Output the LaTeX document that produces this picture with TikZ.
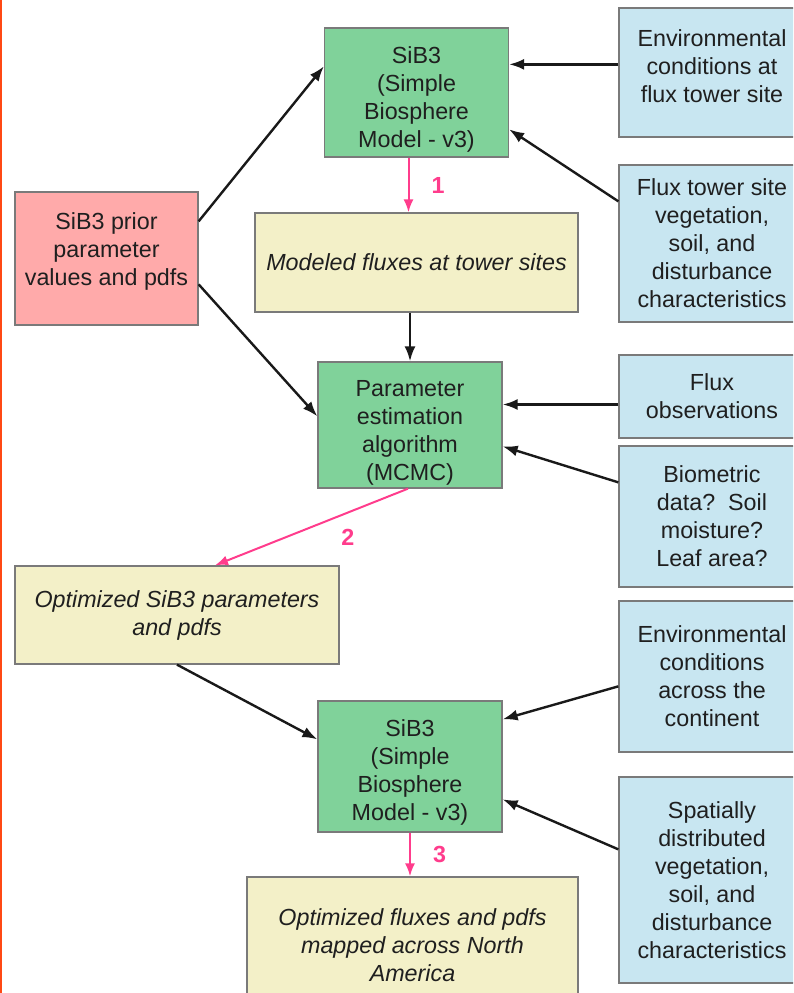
\documentclass[tikz,border=0pt]{standalone}
\usepackage{fontspec}
\setmainfont{Liberation Sans}
\usepackage{tikz}
\usetikzlibrary{positioning}
\usetikzlibrary{calc, arrows.meta}

\definecolor{modelC}{RGB}{128,210,154}
\definecolor{inputC}{RGB}{200,230,241}
\definecolor{resultC}{RGB}{243,240,200}
\definecolor{priorC}{RGB}{255,170,170}
\definecolor{runC}{RGB}{255,60,140}
\definecolor{edgeC}{RGB}{255,72,20}

\begin{document}
\begin{tikzpicture}
[
	x=1pt, y=-1pt,
	every node/.style={font=\fontsize{23.3}{28}\selectfont, text=black!88},
	theme/.style={draw=black!52, line width=1.3pt, rectangle, align=center, inner sep=4pt},
	model/.style={theme, fill=modelC, minimum width=184pt},
	input/.style={theme, fill=inputC, minimum width=186pt},
	result/.style={theme, fill=resultC, font=\fontsize{23.3}{28}\selectfont\itshape},
	prior/.style={theme, fill=priorC},
	flow/.style={-{Latex[length=15pt, width=11pt]}, line width=2.4pt, black!90},
	run/.style={-{Latex[length=13pt, width=10pt]}, line width=2pt, runC},
	numT/.style={inner sep=0pt, text=runC, font=\fontsize{23.3}{28}\selectfont\bfseries}
]
	\path[use as bounding box, clip] (0,0) rectangle (793,993);
	\fill[edgeC] (0,0) rectangle (2,993);

	\node[model, minimum height=129pt, text height=115pt] (top) at (416.5,92.5) {SiB3\\(Simple\\Biosphere\\Model - v3)};
	\node[input, minimum height=129pt, text depth=13pt] (env1) at (712,72.5) {Environmental\\conditions at\\flux tower site};
	\node[input, minimum height=157pt] (veg1) at (712,243.5) {Flux tower site\\vegetation,\\soil, and\\disturbance\\characteristics};
	\node[prior, minimum width=183pt, minimum height=133pt, text depth=19pt] (prior) at (106.5,258.5) {SiB3 prior\\parameter\\values and pdfs};
	\node[result, minimum width=323pt, minimum height=99pt] (modeled) at (416.5,262.5) {Modeled fluxes at tower sites};

	\node[model, minimum height=126pt, inner ysep=2pt, text height=116.5pt] (param) at (410,425) {Parameter\\estimation\\algorithm\\(MCMC)};
	\node[input, minimum height=83pt] (flux) at (712,396.5) {Flux\\observations};
	\node[input, minimum height=141pt] (bio) at (712,516.5) {Biometric\\data?~~Soil\\moisture?\\Leaf area?};
	\node[result, minimum width=324pt, minimum height=98pt] (opt) at (177,615) {Optimized SiB3 parameters\\and pdfs};

	\node[input, minimum height=151pt] (env2) at (712,676.5) {Environmental\\conditions\\across the\\continent};
	\node[model, minimum height=131pt, text height=113pt] (bot) at (410,766.5) {SiB3\\(Simple\\Biosphere\\Model - v3)};
	\node[input, minimum height=206pt] (spat) at (712,880) {Spatially\\distributed\\vegetation,\\soil, and\\disturbance\\characteristics};
	\node[result, minimum width=331pt, minimum height=136pt] (optflux) at (412.5,945) {Optimized fluxes and pdfs\\mapped across North\\America};

	\draw[flow] ([yshift=-30pt]prior.north east) -- ([yshift=-39pt]top.north west);
	\draw[flow] ([yshift=-93pt]prior.north east) -- ([yshift=-55pt]param.north west);
	\draw[flow] ([yshift=-57pt]env1.north west) -- ([yshift=-57pt]env1.north west -| top.east);
	\draw[flow] ([yshift=-37pt]veg1.north west) -- ([yshift=-102pt]top.north east);
	\draw[run] ([xshift=-8pt]top.south) -- ([xshift=-8pt]top.south |- modeled.north) node[numT, midway, right=22pt] {1};
	\draw[flow] (param.north |- modeled.south) -- (param.north);

	\draw[flow] ([yshift=-8pt]flux.west) -- ([yshift=-8pt]flux.west -| param.east);
	\draw[flow] ([yshift=-37pt]bio.north west) -- ([yshift=-85pt]param.north east);
	\draw[run] ([xshift=-2pt]param.south) -- ([xshift=38pt]opt.north) node[numT, pos=0.35, below right=13pt and 0pt] {2};

	\draw[flow] (opt.south) -- ([yshift=-39pt]bot.north west);
	\draw[flow] ([yshift=-86pt]env2.north west) -- ([yshift=-19pt]bot.north east);
	\draw[flow] ([yshift=-73pt]spat.north west) -- ([yshift=-99pt]bot.north east);
	\draw[run] (bot.south) -- (bot.south |- optflux.north) node[numT, midway, right=22pt] {3};
\end{tikzpicture}
\end{document}
